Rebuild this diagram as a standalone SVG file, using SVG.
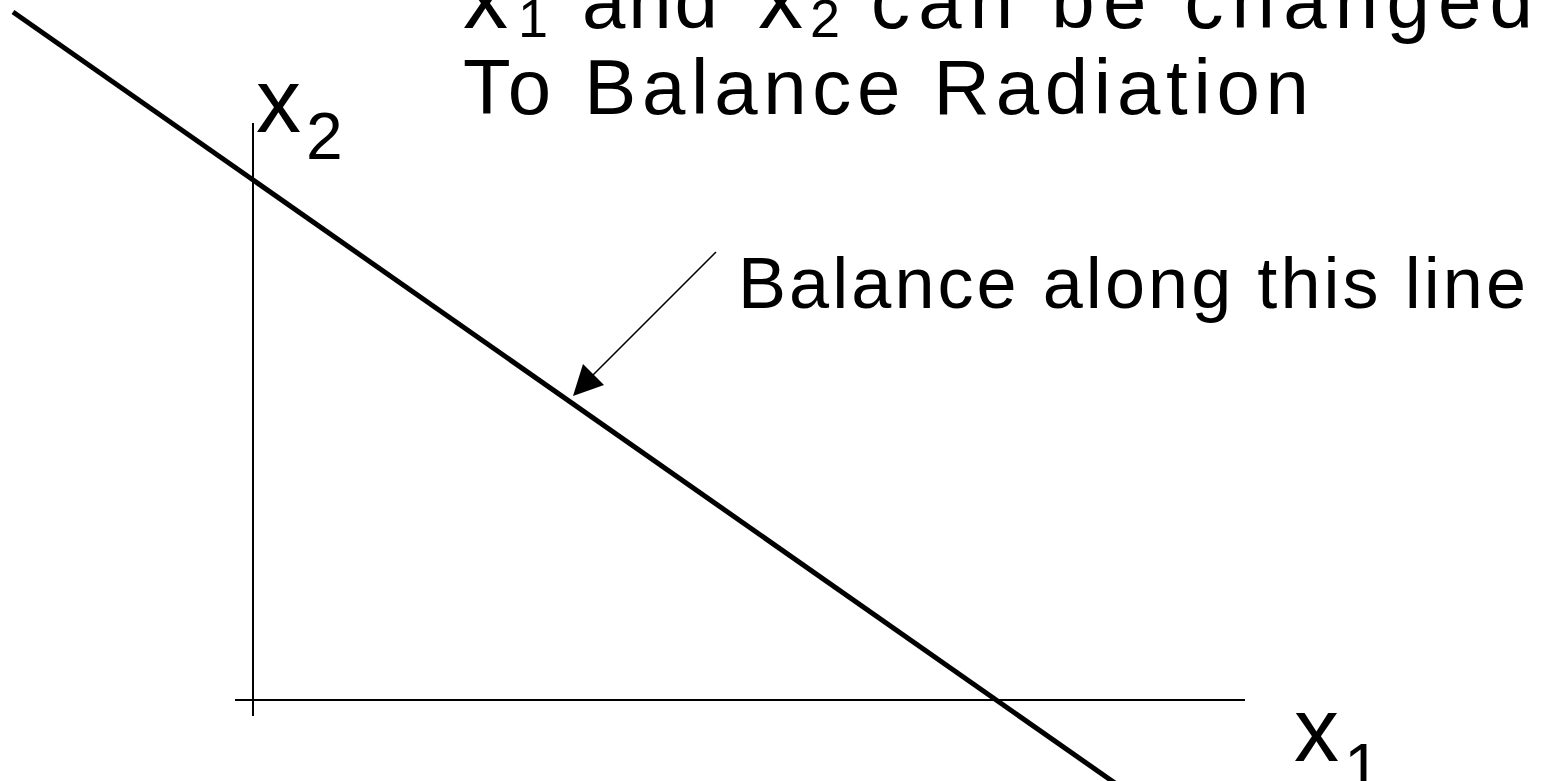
<svg xmlns="http://www.w3.org/2000/svg" width="1542" height="781" viewBox="0 0 1542 781">
<style>
text{font-family:"Liberation Sans",Arial,sans-serif;fill:#000}
.t{font-size:78px}
.lx{font-size:90px}
.ls{font-size:66px}
.ss{font-size:54px}
.ax{stroke:#000;stroke-width:2;fill:none}
</style>
<rect width="1542" height="781" fill="#fff"/>
<g id="axes">
<line class="ax" x1="253" y1="123" x2="253" y2="716"/>
<line class="ax" x1="235" y1="700" x2="1245" y2="700"/>
</g>
<g id="balance-line">
<line x1="13" y1="12" x2="1122" y2="788" stroke="#000" stroke-width="5"/>
</g>
<g id="connectors">
<line x1="716" y1="252" x2="592" y2="376" stroke="#000" stroke-width="1.5"/>
<polygon points="573,396 583,364 604,385" fill="#000"/>
</g>
<g id="title">
<text class="lx" x="463" y="28">x</text>
<text class="ss" x="518" y="37">1</text>
<text class="t" x="582" y="28" textLength="136" lengthAdjust="spacing">and</text>
<text class="lx" x="758" y="28">x</text>
<text class="ss" x="810" y="37">2</text>
<text class="t" x="871" y="28" textLength="662" lengthAdjust="spacing">can be changed</text>
<text class="t" x="463" y="114" textLength="846" lengthAdjust="spacing">To Balance Radiation</text>
</g>
<g id="label-x2">
<text class="lx" x="256" y="132">x</text>
<text class="ls" x="306" y="159">2</text>
</g>
<g id="label-x1">
<text class="lx" x="1294" y="761">x</text>
<text class="ls" x="1344" y="790">1</text>
</g>
<g id="label-balance">
<text style="font-size:72px" x="738" y="308" textLength="788" lengthAdjust="spacing">Balance along this line</text>
</g>
</svg>
